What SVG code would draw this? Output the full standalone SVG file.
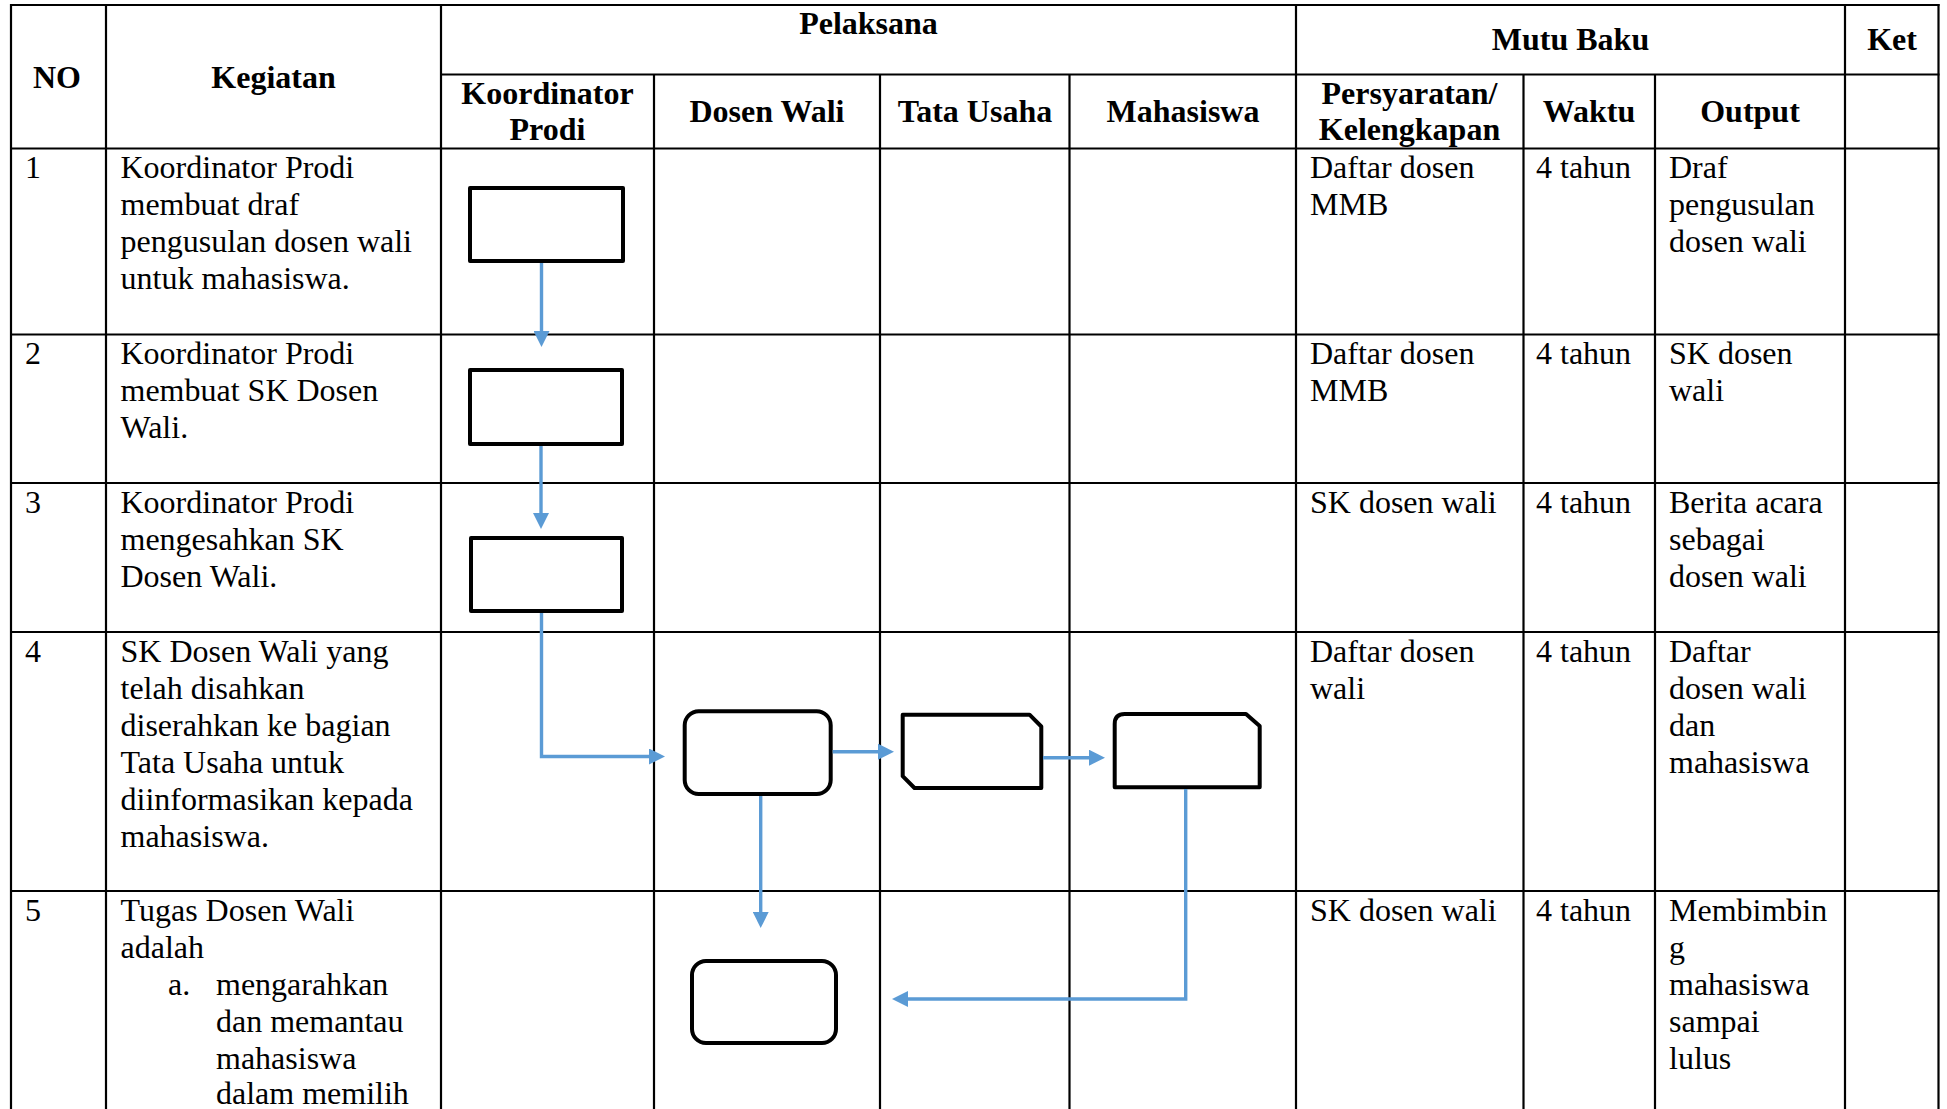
<svg xmlns="http://www.w3.org/2000/svg" width="1947" height="1109" viewBox="0 0 1947 1109">
<style>
.bg{fill:#ffffff}
.grid line{stroke:#000;stroke-width:2.2}
.t{font-family:"Liberation Serif","Times New Roman",serif;font-size:32px;fill:#000}
.h{font-weight:bold;text-anchor:middle}
.shape{fill:#fff;stroke:#000;stroke-width:4;stroke-linejoin:round}
.conn{fill:none;stroke:#5B9BD5;stroke-width:3.4;marker-end:url(#ah)}
</style>
<defs>
<marker id="ah" viewBox="0 0 16 16" markerWidth="16" markerHeight="16" refX="0" refY="8" orient="auto" markerUnits="userSpaceOnUse">
<path d="M0,0 L16,8 L0,16 z" fill="#5B9BD5"/>
</marker>
</defs>
<rect class="bg" x="0" y="0" width="1947" height="1109"/>

<g id="table" class="grid">
<line x1="10" y1="5" x2="1939.5" y2="5"/>
<line x1="441" y1="74.5" x2="1939.5" y2="74.5"/>
<line x1="10" y1="148.5" x2="1939.5" y2="148.5"/>
<line x1="10" y1="334.5" x2="1939.5" y2="334.5"/>
<line x1="10" y1="483" x2="1939.5" y2="483"/>
<line x1="10" y1="632" x2="1939.5" y2="632"/>
<line x1="10" y1="891" x2="1939.5" y2="891"/>
<line x1="11" y1="4" x2="11" y2="1109"/>
<line x1="106" y1="4" x2="106" y2="1109"/>
<line x1="441" y1="4" x2="441" y2="1109"/>
<line x1="654" y1="74.5" x2="654" y2="1109"/>
<line x1="880" y1="74.5" x2="880" y2="1109"/>
<line x1="1069.5" y1="74.5" x2="1069.5" y2="1109"/>
<line x1="1296" y1="4" x2="1296" y2="1109"/>
<line x1="1523.5" y1="74.5" x2="1523.5" y2="1109"/>
<line x1="1655" y1="74.5" x2="1655" y2="1109"/>
<line x1="1845" y1="4" x2="1845" y2="1109"/>
<line x1="1938.5" y1="4" x2="1938.5" y2="1109"/>
</g>

<g id="header" class="t h">
<text x="57" y="88">NO</text>
<text x="273.5" y="88">Kegiatan</text>
<text x="868.5" y="34">Pelaksana</text>
<text x="1570.5" y="50">Mutu Baku</text>
<text x="1892" y="50">Ket</text>
<text x="547.5" y="104">Koordinator</text>
<text x="547.5" y="140">Prodi</text>
<text x="767" y="122">Dosen Wali</text>
<text x="975" y="122">Tata Usaha</text>
<text x="1183" y="122">Mahasiswa</text>
<text x="1409.5" y="104">Persyaratan/</text>
<text x="1409.5" y="140">Kelengkapan</text>
<text x="1589" y="122">Waktu</text>
<text x="1750" y="122">Output</text>
</g>

<g id="row1" class="t">
<text x="25" y="178">1</text>
<text x="120.5" y="178">Koordinator Prodi</text>
<text x="120.5" y="215">membuat draf</text>
<text x="120.5" y="252">pengusulan dosen wali</text>
<text x="120.5" y="289">untuk mahasiswa.</text>
<text x="1310" y="178">Daftar dosen</text>
<text x="1310" y="215">MMB</text>
<text x="1536" y="178">4 tahun</text>
<text x="1669" y="178">Draf</text>
<text x="1669" y="215">pengusulan</text>
<text x="1669" y="252">dosen wali</text>
</g>

<g id="row2" class="t">
<text x="25" y="364">2</text>
<text x="120.5" y="364">Koordinator Prodi</text>
<text x="120.5" y="401">membuat SK Dosen</text>
<text x="120.5" y="438">Wali.</text>
<text x="1310" y="364">Daftar dosen</text>
<text x="1310" y="401">MMB</text>
<text x="1536" y="364">4 tahun</text>
<text x="1669" y="364">SK dosen</text>
<text x="1669" y="401">wali</text>
</g>

<g id="row3" class="t">
<text x="25" y="513">3</text>
<text x="120.5" y="513">Koordinator Prodi</text>
<text x="120.5" y="550">mengesahkan SK</text>
<text x="120.5" y="587">Dosen Wali.</text>
<text x="1310" y="513">SK dosen wali</text>
<text x="1536" y="513">4 tahun</text>
<text x="1669" y="513">Berita acara</text>
<text x="1669" y="550">sebagai</text>
<text x="1669" y="587">dosen wali</text>
</g>

<g id="row4" class="t">
<text x="25" y="662">4</text>
<text x="120.5" y="662">SK Dosen Wali yang</text>
<text x="120.5" y="699">telah disahkan</text>
<text x="120.5" y="736">diserahkan ke bagian</text>
<text x="120.5" y="773">Tata Usaha untuk</text>
<text x="120.5" y="810">diinformasikan kepada</text>
<text x="120.5" y="847">mahasiswa.</text>
<text x="1310" y="662">Daftar dosen</text>
<text x="1310" y="699">wali</text>
<text x="1536" y="662">4 tahun</text>
<text x="1669" y="662">Daftar</text>
<text x="1669" y="699">dosen wali</text>
<text x="1669" y="736">dan</text>
<text x="1669" y="773">mahasiswa</text>
</g>

<g id="row5" class="t">
<text x="25" y="921">5</text>
<text x="120.5" y="921">Tugas Dosen Wali</text>
<text x="120.5" y="958">adalah</text>
<text x="168" y="995">a.</text>
<text x="216" y="995">mengarahkan</text>
<text x="216" y="1032">dan memantau</text>
<text x="216" y="1069">mahasiswa</text>
<text x="216" y="1104">dalam memilih</text>
<text x="1310" y="921">SK dosen wali</text>
<text x="1536" y="921">4 tahun</text>
<text x="1669" y="921">Membimbin</text>
<text x="1669" y="958">g</text>
<text x="1669" y="995">mahasiswa</text>
<text x="1669" y="1032">sampai</text>
<text x="1669" y="1069">lulus</text>
</g>

<g id="node1"><rect class="shape" x="470" y="188" width="153" height="73"/></g>
<g id="node2"><rect class="shape" x="470" y="370" width="152" height="74"/></g>
<g id="node3"><rect class="shape" x="471" y="538" width="151" height="73"/></g>
<g id="node4"><rect class="shape" x="684.7" y="711.3" width="146" height="82.7" rx="14" ry="14"/></g>
<g id="node5"><path class="shape" d="M902.7,714.7 H1029.5 L1041.3,726.5 V788 H914.5 L902.7,776.2 Z"/></g>
<g id="node6"><path class="shape" d="M1124.7,714 H1246 L1259.7,726 V787.3 H1114.7 V724 Q1114.7,714 1124.7,714 Z"/></g>
<g id="node7"><rect class="shape" x="692" y="961" width="144" height="82" rx="14" ry="14"/></g>

<g id="connectors">
<path class="conn" d="M541.5,263 V331"/>
<path class="conn" d="M541,446 V513"/>
<path class="conn" d="M541.5,613 V756.5 H649"/>
<path class="conn" d="M832.7,751.7 H878"/>
<path class="conn" d="M1043,757.7 H1089"/>
<path class="conn" d="M760.7,796 V912"/>
<path class="conn" d="M1185.7,789 V999 H908"/>
</g>
</svg>
